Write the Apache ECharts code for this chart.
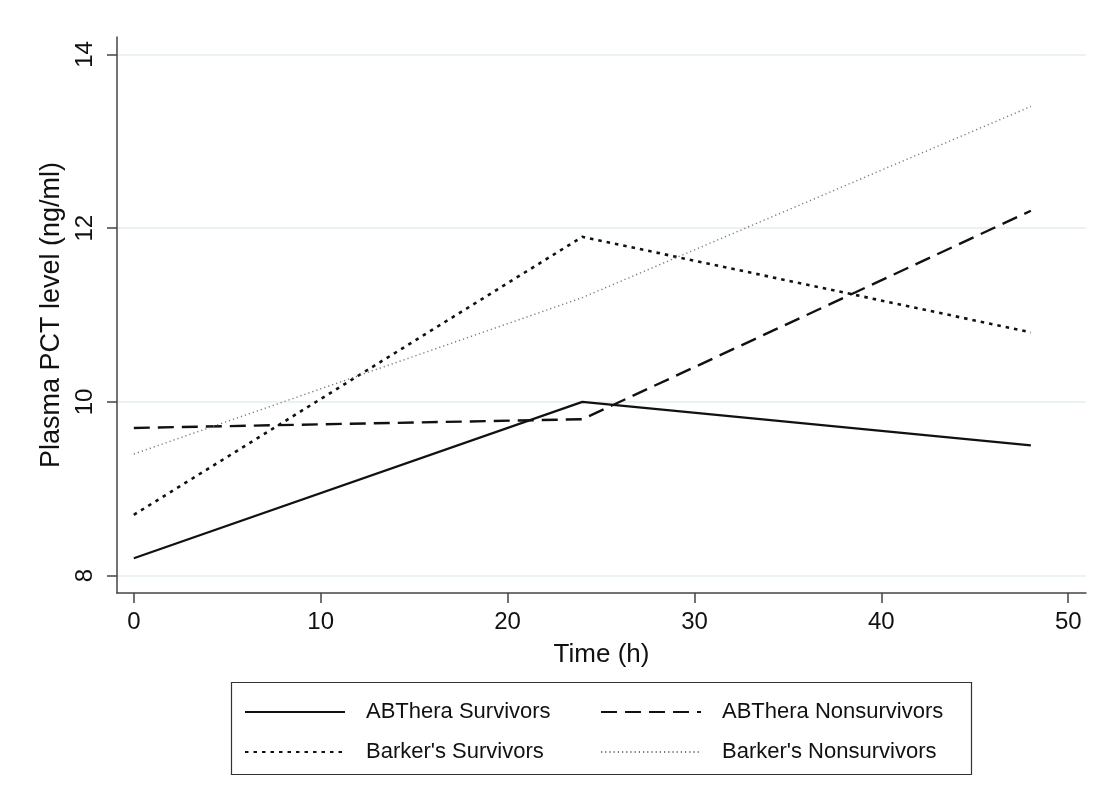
<!DOCTYPE html>
<html>
<head>
<meta charset="utf-8">
<script src="https://cdn.jsdelivr.net/npm/echarts@6/dist/echarts.min.js"></script>
<style>
html,body{margin:0;padding:0;background:#fff;}
#main{width:1109px;height:809px;}
</style>
</head>
<body>
<div id="main"></div>
<script>
const timePoints = [0, 24, 48];
const abtheraSurvivors = [8.2, 10.0, 9.5];
const abtheraNonsurvivors = [9.7, 9.8, 12.2];
const barkerSurvivors = [8.7, 11.9, 10.8];
const barkerNonsurvivors = [9.4, 11.2, 13.4];
const seriesNames = ['ABThera Survivors', 'ABThera Nonsurvivors', "Barker's Survivors", "Barker's Nonsurvivors"];
const xTicks = [0, 10, 20, 30, 40, 50];
const yTicks = [8, 10, 12, 14];

const FONT = '"Liberation Sans", Arial, Helvetica, sans-serif';
const pairs = (ys) => timePoints.map((t, i) => [t, ys[i]]);

const chart = echarts.init(document.getElementById('main'));

function mkLegend(name, left, top) {
  return {
    data: [name], left: left, top: top, orient: 'horizontal',
    itemWidth: 100, itemHeight: 14, padding: 0,
    itemStyle: { opacity: 0 },
    textStyle: { fontFamily: FONT, fontSize: 22, color: '#111', padding: [0, 0, 0, 16] },
    selectedMode: false
  };
}

const option = {
  backgroundColor: '#fff',
  animation: false,
  grid: { left: 117, right: 23, top: 37, bottom: 216, containLabel: false },
  xAxis: {
    type: 'value', min: -0.9, max: 50.95,
    name: 'Time (h)', nameLocation: 'middle', nameGap: 49,
    nameTextStyle: { fontFamily: FONT, fontSize: 26, color: '#111' },
    axisLine: { show: true, onZero: false, lineStyle: { color: '#444', width: 1.5 } },
    axisTick: { show: true, length: 10, customValues: xTicks, lineStyle: { color: '#444', width: 1.5 } },
    axisLabel: { customValues: xTicks, fontFamily: FONT, fontSize: 24, color: '#111', margin: 17 },
    splitLine: { show: false }
  },
  yAxis: {
    type: 'value', min: 7.8, max: 14.2,
    name: 'Plasma PCT level (ng/ml)', nameLocation: 'middle', nameGap: 47, nameRotate: 90,
    nameTextStyle: { fontFamily: FONT, fontSize: 27, color: '#111' },
    axisLine: { show: true, onZero: false, lineStyle: { color: '#444', width: 1.5 } },
    axisTick: { show: true, length: 10, customValues: yTicks, lineStyle: { color: '#444', width: 1.5 } },
    axisLabel: { customValues: yTicks, rotate: 90, fontFamily: FONT, fontSize: 24, color: '#111', margin: 20 },
    splitLine: { show: true, lineStyle: { color: '#e4eef0', width: 1.5 } }
  },
  legend: [
    mkLegend(seriesNames[0], 244, 701),
    mkLegend(seriesNames[1], 600, 701),
    mkLegend(seriesNames[2], 244, 741),
    mkLegend(seriesNames[3], 600, 741)
  ],
  graphic: [{
    type: 'rect', shape: { x: 231.5, y: 682.5, width: 740, height: 92 },
    style: { fill: 'none', stroke: '#333', lineWidth: 1.2 }, silent: true
  }],
  series: [
    { name: seriesNames[0], type: 'line', data: pairs(abtheraSurvivors), symbol: 'none',
      lineStyle: { color: '#111', width: 2.2, type: 'solid' }, itemStyle: { color: '#111' } },
    { name: seriesNames[1], type: 'line', data: pairs(abtheraNonsurvivors), symbol: 'none',
      lineStyle: { color: '#111', width: 2.4, type: [16, 8] }, itemStyle: { color: '#111' } },
    { name: seriesNames[2], type: 'line', data: pairs(barkerSurvivors), symbol: 'none',
      lineStyle: { color: '#111', width: 2.6, type: [3.5, 5] }, itemStyle: { color: '#111' } },
    { name: seriesNames[3], type: 'line', data: pairs(barkerNonsurvivors), symbol: 'none',
      lineStyle: { color: '#777', width: 1.4, type: [1.2, 3] }, itemStyle: { color: '#777' } }
  ]
};
chart.setOption(option);
</script>
</body>
</html>
